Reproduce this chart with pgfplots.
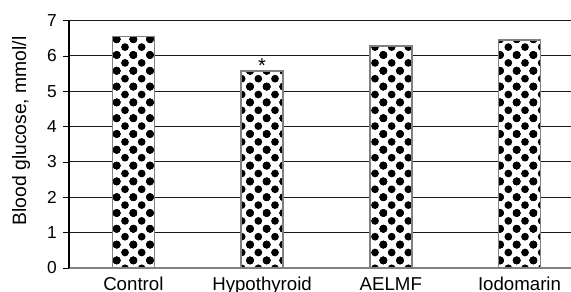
\documentclass[border=0pt]{standalone}
\usepackage{fontspec}
\setmainfont{Liberation Sans}
\usepackage{pgfplots}
\usepackage{pgfplotstable}
\pgfplotsset{compat=1.18}
\usetikzlibrary{patterns}

\pgfdeclarepatternformonly{bigdots}{\pgfqpoint{-3.2pt}{-3.2pt}}{\pgfqpoint{15.7pt}{15.05pt}}{\pgfqpoint{12.5pt}{11.85pt}}{%
  \pgfpathcircle{\pgfqpoint{0pt}{0pt}}{2.9pt}%
  \pgfpathcircle{\pgfqpoint{12.5pt}{0pt}}{2.9pt}%
  \pgfpathcircle{\pgfqpoint{0pt}{11.85pt}}{2.9pt}%
  \pgfpathcircle{\pgfqpoint{12.5pt}{11.85pt}}{2.9pt}%
  \pgfpathcircle{\pgfqpoint{6.25pt}{5.925pt}}{2.9pt}%
  \pgfusepath{fill}%
}

\pgfplotstableread{
x y star
0 6.55 {}
1 5.58 *
2 6.28 {}
3 6.45 {}
}\glucose

\begin{document}
\begin{tikzpicture}
\begin{axis}[
  name=ax,
  scale only axis,
  width=376.5pt, height=185.5pt,
  xmin=-0.5, xmax=3.4,
  ymin=0, ymax=7,
  ytick={0,1,2,3,4,5,6,7},
  xtick={0,1,2,3},
  xticklabels={Control,Hypothyroid,AELMF,Iodomarin},
  separate axis lines,
  axis x line*=bottom,
  axis y line*=left,
  x axis line style={black!50, line width=1.1pt, -},
  y axis line style={black, line width=0.8pt, -},
  xtick style={draw=none},
  ytick style={black, line width=0.7pt},
  tick align=outside,
  major tick length=4.5pt,
  ymajorgrids,
  major grid style={black!90, line width=0.75pt},
  /pgf/number format/assume math mode=true,
  yticklabel style={font=\fontsize{13}{15}\selectfont, inner sep=0pt, anchor=east, xshift=-4.5pt},
  xticklabel style={font=\fontsize{14}{16}\selectfont, inner sep=0pt, anchor=north, yshift=-2.25pt},
  ylabel={Blood glucose, mmol/l},
  ylabel style={font=\fontsize{14.5}{16}\selectfont, at={(axis description cs:-0.0956,0.554)}, anchor=center},
  clip=false,
]
\addplot[ybar, bar width=31.5pt, draw=black!50, line width=1.1pt,
  preaction={fill=white}, pattern=bigdots, pattern color=black,
  point meta=explicit symbolic,
  nodes near coords,
  every node near coord/.style={font=\fontsize{15}{16}\selectfont, inner sep=0pt, anchor=south, text=black, yshift=-1.5pt},
] table[x=x, y=y, meta=star] {\glucose};
\end{axis}
\pgfresetboundingbox
\path[use as bounding box] ([xshift=-51.75pt,yshift=-18pt]ax.south west) rectangle ([yshift=15.5pt]ax.north east);
\end{tikzpicture}
\end{document}
